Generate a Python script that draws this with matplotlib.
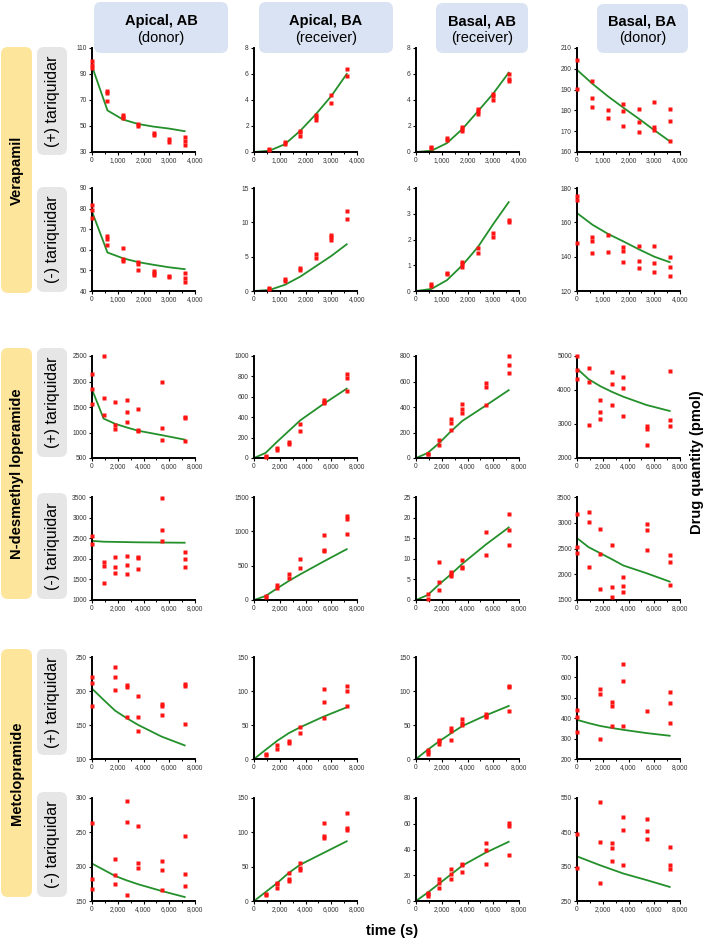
import matplotlib
matplotlib.use("Agg")
import matplotlib.pyplot as plt
from matplotlib.patches import FancyBboxPatch
from matplotlib.ticker import MultipleLocator, FuncFormatter, FixedLocator

plt.rcParams['font.family'] = ['Liberation Sans', 'DejaVu Sans']

# sampling times (s)
ver_times = [0, 600, 1200, 1800, 2400, 3000, 3600]
long_times = [0, 900, 1800, 2700, 3600, 5400, 7200]

col_titles = ["Apical, AB", "Apical, BA", "Basal, AB", "Basal, BA"]
col_subtitles = ["(donor)", "(receiver)", "(receiver)", "(donor)"]
drug_names = ["Verapamil", "N-desmethyl loperamide", "Metclopramide"]
condition_names = ["(+) tariquidar", "(-) tariquidar"]

# replicate measurements per time point, one list per column
ver_pos_obs = [
    [[99.7, 97, 94.5], [77, 75.5, 69.5], [58.4, 57.1, 56.3], [51.2, 50], [44.5, 43.4], [39.8, 37.7], [41.6, 38.5, 35.4]],
    [[], [0.2, 0.15], [0.8, 0.65], [1.64, 1.56, 1.25], [2.86, 2.73, 2.47], [4.36, 3.74], [6.36, 5.87]],
    [[], [0.42, 0.29], [1.09, 0.96], [1.95, 1.77, 1.64], [3.27, 3.12, 2.94], [4.47, 4.31, 4.03], [6.0, 5.6, 5.48]],
    [[204.2, 190.4], [194.3, 186.2, 181.8], [180.3, 176.2], [183.1, 179.8, 172.7], [180.6, 174.4, 169.7], [183.9, 172.2, 170.6], [180.9, 175.1, 165.3]],
]
ver_pos_fit = [
    [96, 62, 55, 51.5, 49.5, 48, 46],
    [0, 0.1, 0.6, 1.64, 2.9, 4.3, 6.0],
    [0, 0.1, 0.68, 1.77, 3.12, 4.5, 6.1],
    [199.5, 192.8, 186.8, 181.3, 176, 170.5, 165.2],
]
ver_neg_obs = [
    [[81.9, 79.1, 75.4], [66.5, 65.3, 62.4], [61.1, 55.4, 54.6], [54, 53, 50.2], [49.7, 48.6, 47.8], [47.5, 46.7], [48.6, 46.5, 44.5]],
    [[], [0.5, 0.3], [1.7, 1.5], [3.3, 3.0], [5.4, 4.8], [8.2, 7.8, 7.5], [11.7, 10.5]],
    [[], [0.27, 0.2], [0.71, 0.65], [1.12, 1.06, 0.93], [1.66, 1.49], [2.25, 2.09], [2.74, 2.68]],
    [[175.1, 173.2, 148.2], [151.7, 149.4, 142.4], [152.7, 142.6], [145.9, 143.2, 136.8], [146.3, 137.2, 133.3], [146.3, 136.2, 131.3], [139.7, 133.7, 128.8]],
]
ver_neg_fit = [
    [78.6, 58.7, 55.9, 54, 52.7, 51.5, 50.6],
    [0, 0.15, 0.9, 2.1, 3.6, 5.1, 6.8],
    [0, 0.08, 0.42, 1.0, 1.7, 2.6, 3.45],
    [165.4, 158.6, 153.3, 148.9, 144.3, 140, 136.8],
]
ndl_pos_obs = [
    [[2143, 1844, 1559], [2500, 1682, 1345], [1604, 1150, 1066], [1637, 1396, 1214], [1455, 1053, 1021], [1986, 1085, 845], [1306, 1280, 838]],
    [[], [16, 10], [97, 75], [156, 140], [331, 266], [569, 552, 536], [828, 789, 656]],
    [[], [34, 29], [138, 104], [306, 278, 216], [421, 384, 351], [592, 553, 413], [800, 732, 670]],
    [[5000, 4581, 4338], [4649, 4240, 2974], [3705, 3364, 3140], [4532, 4162, 3559], [4386, 4046, 3237], [2945, 2867, 2390], [4562, 3120, 2945]],
]
ndl_pos_fit = [
    [1844, 1273, 1170, 1099, 1034, 949, 860],
    [0, 50, 160, 265, 370, 530, 680],
    [0, 39, 117, 208, 291, 410, 532],
    [4630, 4318, 4114, 3948, 3802, 3559, 3383],
]
ndl_neg_obs = [
    [[2542, 2363], [1933, 1827, 1421], [2055, 1795, 1649], [2071, 1852, 1625], [2038, 2014, 1754], [3476, 2704, 2420], [2160, 1998, 1795]],
    [[], [63, 39], [219, 170], [380, 316], [594, 472], [940, 730, 716], [1227, 1178, 959]],
    [[], [1.5, 0.2], [9.2, 4.3, 2.4], [6.7, 6.3, 5.9], [9.6, 8.0, 7.7], [16.4, 11.0], [20.9, 16.9, 13.4]],
    [[3175, 2526, 2410], [3208, 3013, 2149], [2883, 2390, 1708], [2565, 1759, 1565], [1941, 1772, 1649], [2974, 2851, 2474], [2377, 2234, 1792]],
]
ndl_neg_fit = [
    [2435, 2415, 2410, 2405, 2400, 2395, 2390],
    [0, 58, 170, 277, 375, 560, 740],
    [0, 1.2, 3.8, 6.2, 8.8, 13.4, 17.6],
    [2702, 2526, 2410, 2293, 2170, 2020, 1857],
]
met_pos_obs = [
    [[220.8, 212, 178], [], [235.4, 220.8, 201.3], [208.6, 206.2, 161.4], [192.5, 161.4, 141.9], [181.5, 178, 165], [211, 207.1, 151.1]],
    [[], [7.8, 5.4], [20.9, 14.6], [25.8, 23.4], [47.7, 38], [102.7, 84.2, 59.9], [107.6, 100.3, 77.9]],
    [[], [12.7, 10.2, 7.3], [28.2, 25.8, 22.4], [45.3, 41.9, 28.2], [58.4, 53.6, 50.2], [65.7, 63.3, 61.4], [107.1, 105.2, 71.1]],
    [[440, 408, 332], [], [543, 521, 297], [481, 461, 362], [664, 581, 362], [437], [526, 474, 375]],
]
met_pos_fit = [
    [203.5, 187, 171, 160, 150, 133, 120],
    [0, 13.5, 26.8, 38, 46.8, 62.3, 76],
    [0, 13.5, 26, 37.5, 48.5, 64, 78],
    [392, 376, 362, 352, 343, 327, 314],
]
met_neg_obs = [
    [[264, 182, 168], [], [210.7, 188.4, 174.3], [295, 265, 159], [258.7, 205.8, 198.5], [208.2, 195.6, 165.5], [244.2, 189.9, 171.5]],
    [[], [10.7, 8.2], [26.7, 24.3, 18.9], [41.2, 32.5, 29.1], [55.3, 48, 45.6], [113.5, 94.6, 92.2], [128, 106, 104]],
    [[], [6.5, 5.2, 3.9], [17.4, 14, 10.4], [24.6, 21, 17.4], [29, 27.7, 22.5], [45.3, 39.4, 28.5], [60.6, 58, 35.5]],
    [[446, 347], [], [538, 422, 303], [420, 405, 366], [495, 456, 355], [490, 454, 430], [407, 354, 344]],
]
met_neg_fit = [
    [204.5, 195.5, 186.4, 180, 174.3, 164.6, 155.8],
    [0, 13, 26.2, 41, 53, 70, 87],
    [0, 6.5, 13.5, 20.5, 27.5, 37.5, 46],
    [380, 367, 354, 342, 330, 311, 291],
]

# y ticks per row / column
y_ticks = [
    [[30, 50, 70, 90, 110], [0, 2, 4, 6, 8], [0, 2, 4, 6, 8], [160, 170, 180, 190, 200, 210]],
    [[40, 50, 60, 70, 80, 90], [0, 5, 10, 15], [0, 1, 2, 3, 4], [120, 140, 160, 180]],
    [[500, 1000, 1500, 2000, 2500], [0, 200, 400, 600, 800, 1000], [0, 200, 400, 600, 800], [2000, 3000, 4000, 5000]],
    [[1000, 1500, 2000, 2500, 3000, 3500], [0, 500, 1000, 1500], [0, 5, 10, 15, 20, 25], [1500, 2000, 2500, 3000, 3500]],
    [[100, 150, 200, 250], [0, 50, 100, 150], [0, 50, 100, 150], [200, 300, 400, 500, 600, 700]],
    [[150, 200, 250, 300], [0, 50, 100, 150], [0, 20, 40, 60, 80], [250, 350, 450, 550]],
]

rows = [
    (ver_times, ver_pos_obs, ver_pos_fit, 4000),
    (ver_times, ver_neg_obs, ver_neg_fit, 4000),
    (long_times, ndl_pos_obs, ndl_pos_fit, 8000),
    (long_times, ndl_neg_obs, ndl_neg_fit, 8000),
    (long_times, met_pos_obs, met_pos_fit, 8000),
    (long_times, met_neg_obs, met_neg_fit, 8000),
]

W, H = 709, 942
fig = plt.figure(figsize=(W / 100, H / 100), dpi=100)

GREEN = "#24902b"
BLUE_BOX = "#dae3f3"
YELLOW_BOX = "#fde59c"
GREY_BOX = "#e6e6e6"


def px_box(x0, y0, x1, y1, color, r=0.07):
    # pixel coords measured from top-left
    p = FancyBboxPatch((x0 / 100, (H - y1) / 100), (x1 - x0) / 100, (y1 - y0) / 100,
                       boxstyle=f"round,pad=0,rounding_size={r}",
                       transform=fig.dpi_scale_trans, fc=color, ec="none", zorder=0)
    fig.add_artist(p)


def px_text(x, y, s, **kw):
    fig.text(x / W, 1 - y / H, s, ha="center", va="center", **kw)


# column headers
header_boxes = [(94, 2, 228, 53), (259, 2, 393, 53), (436, 3, 528, 53), (597, 4, 688, 53)]
for (x0, y0, x1, y1), title, sub in zip(header_boxes, col_titles, col_subtitles):
    px_box(x0, y0, x1, y1, BLUE_BOX)
    cx = (x0 + x1) / 2
    px_text(cx, 21, title, fontsize=10.5, fontweight="bold")
    px_text(cx, 38, sub, fontsize=10.5)

# row labels
drug_boxes = [(47, 293), (348, 599), (649, 897)]
cond_boxes = [[(47, 155), (187, 292)], [(348, 457), (493, 599)], [(649, 755), (792, 897)]]
for name, (y0, y1), conds in zip(drug_names, drug_boxes, cond_boxes):
    px_box(1, y0, 32, y1, YELLOW_BOX)
    px_text(17, (y0 + y1) / 2, name, fontsize=10.5, fontweight="bold", rotation=90)
    for cname, (c0, c1) in zip(condition_names, conds):
        px_box(37, c0, 67, c1, GREY_BOX)
        px_text(53, (c0 + c1) / 2, cname, fontsize=11.5, rotation=90)

col_left = [92, 254, 416, 577]
ax_w = 103
row_span = [(48, 152), (188, 291), (356, 458), (497, 600), (657, 759), (798, 901)]

comma_fmt = FuncFormatter(lambda v, p: f"{int(v):,}")

for r, (times, obs, fit, xmax) in enumerate(rows):
    top, bottom = row_span[r]
    for c in range(4):
        ax = fig.add_axes([col_left[c] / W, 1 - bottom / H, ax_w / W, (bottom - top) / H])
        yt = y_ticks[r][c]

        ax.plot(times, fit[c], color=GREEN, lw=1.3, zorder=2, clip_on=False)
        xs, ys = [], []
        for t, reps in zip(times, obs[c]):
            xs += [t] * len(reps)
            ys += reps
        ax.plot(xs, ys, "s", ms=2.5, color="#ff1414", mec="none", zorder=3, clip_on=False)

        ax.set_xlim(0, xmax)
        ax.set_ylim(yt[0], yt[-1])
        ax.xaxis.set_major_locator(MultipleLocator(xmax / 4))
        ax.xaxis.set_minor_locator(MultipleLocator(xmax / 8))
        ax.xaxis.set_major_formatter(comma_fmt)
        ax.yaxis.set_major_locator(FixedLocator(yt))

        for side in ("top", "right"):
            ax.spines[side].set_visible(False)
        for side in ("left", "bottom"):
            ax.spines[side].set_linewidth(1.4)
        ax.tick_params(which="major", direction="out", length=2.5, width=0.8,
                       labelsize=4.8, labelcolor="#333333", pad=1.2)
        ax.tick_params(which="minor", direction="out", length=1.6, width=0.7)
        ax.patch.set_alpha(0)

px_text(697, 462, "Drug quantity (pmol)", fontsize=10.5, fontweight="bold", rotation=90)
px_text(392, 931, "time (s)", fontsize=10.5, fontweight="bold")

fig.savefig("out.png", dpi=100)
